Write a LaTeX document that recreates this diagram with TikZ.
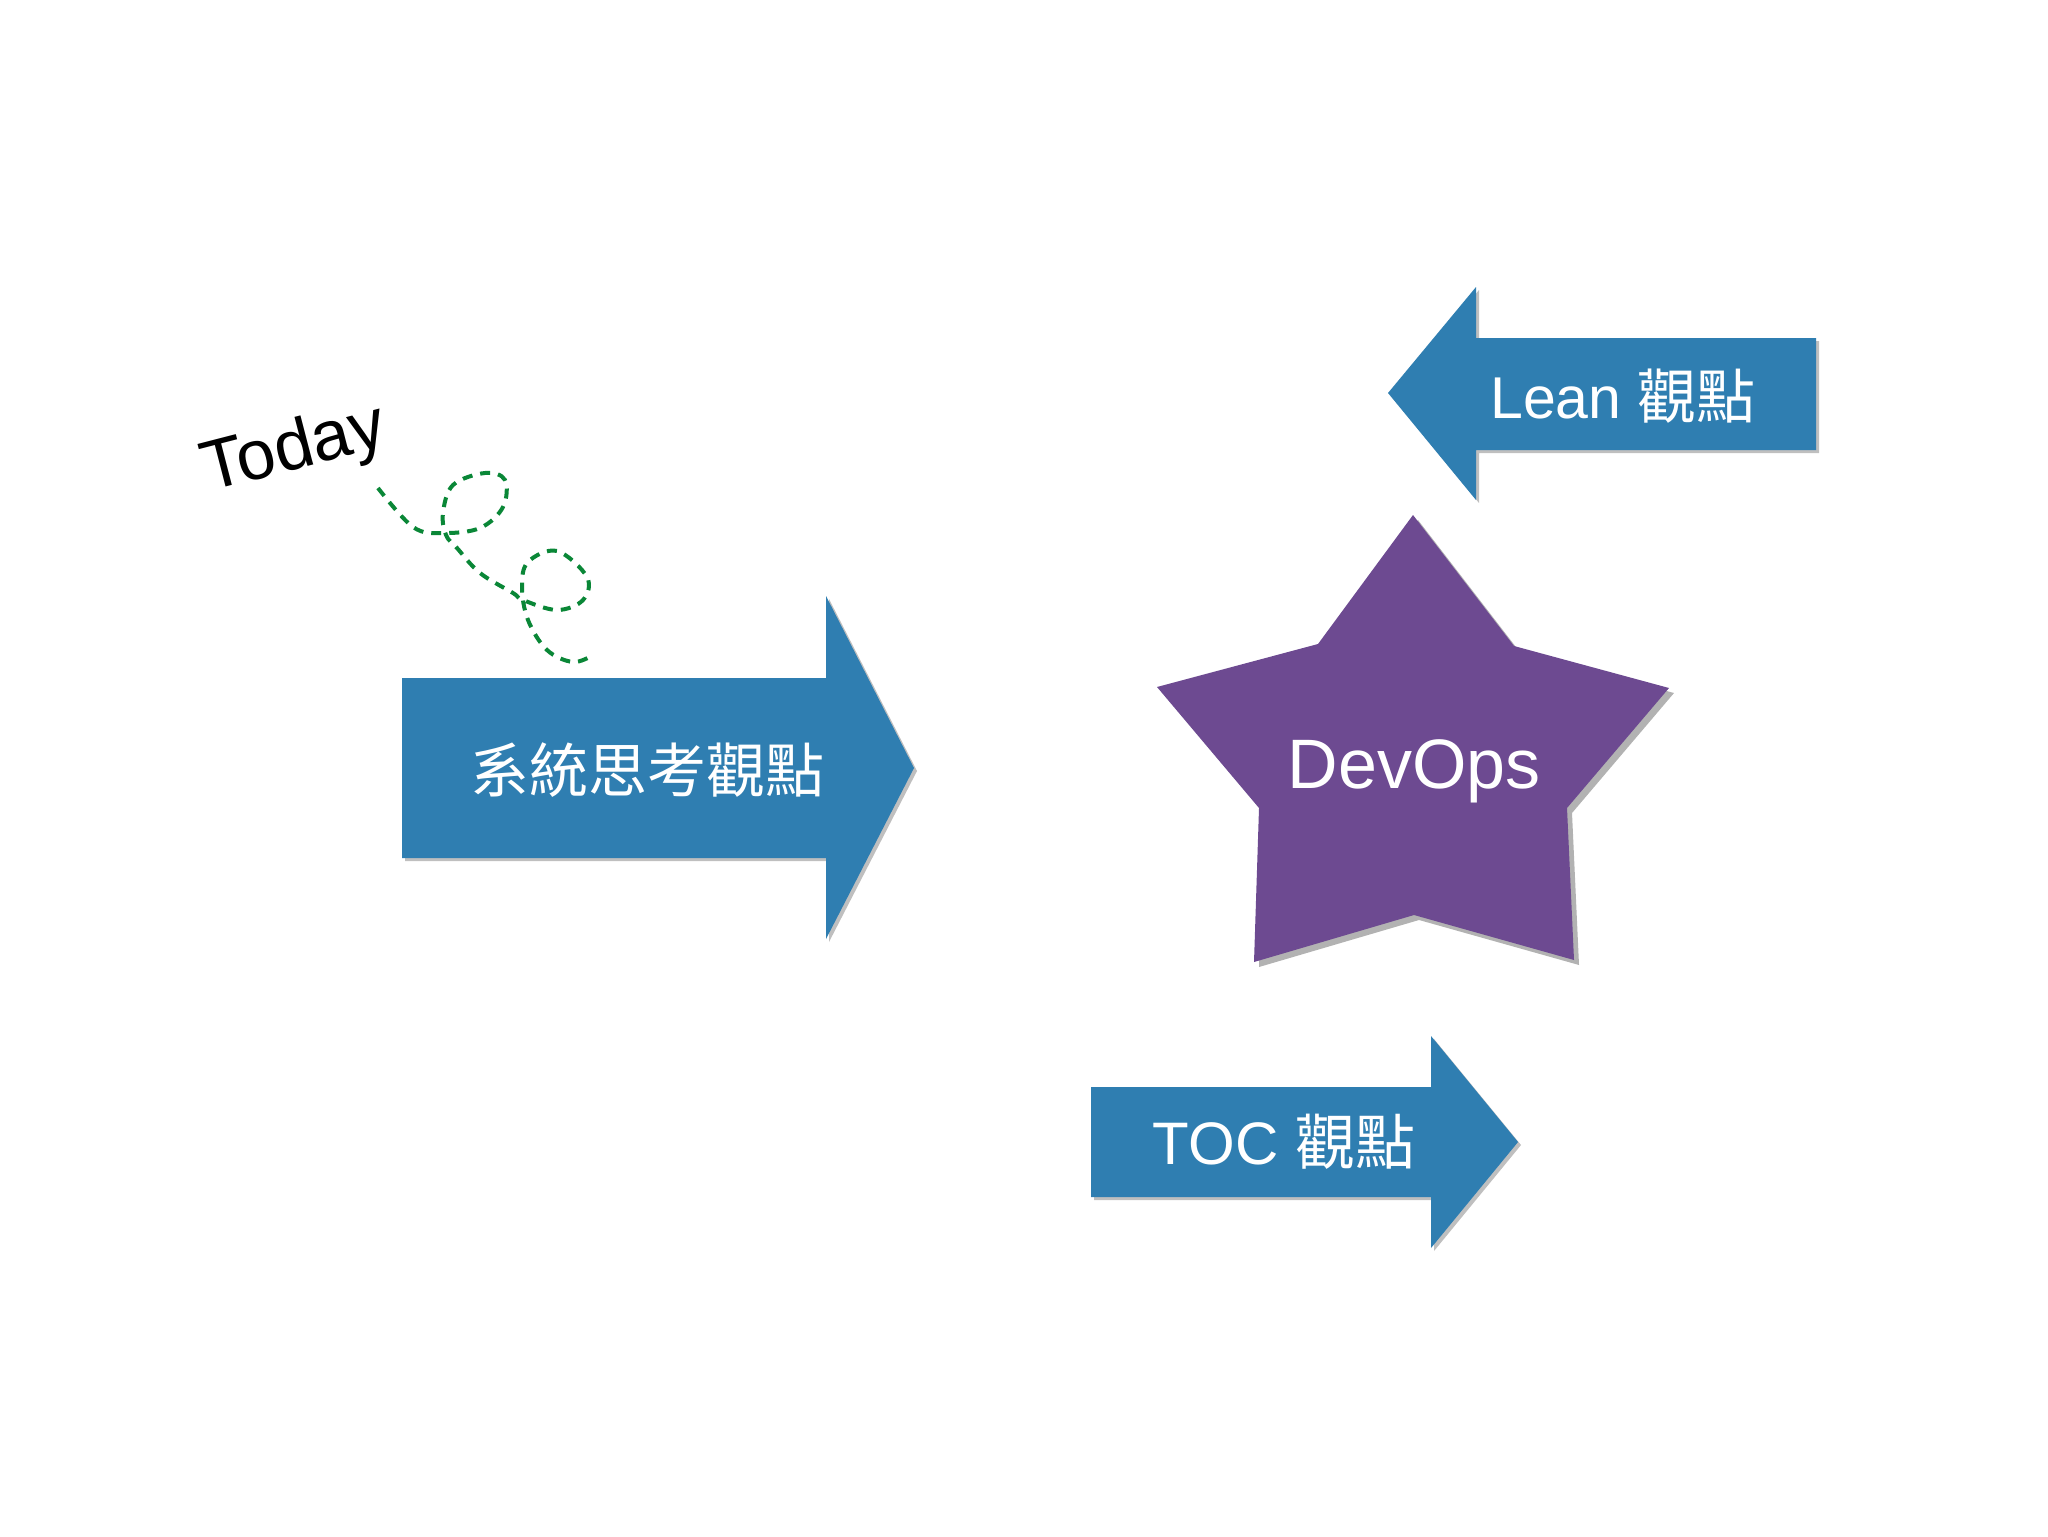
\documentclass[tikz,border=0pt]{standalone}
\usepackage{fontspec}
\setmainfont{Liberation Sans}
\newfontfamily\cjk{Noto Sans CJK TC}
\usetikzlibrary{shadows}
\definecolor{arrowblue}{RGB}{47,126,177}
\definecolor{starpurple}{RGB}{109,74,145}
\definecolor{loopgreen}{RGB}{10,135,55}
\tikzset{
  paper/.style={fill=arrowblue, draw=none,
    drop shadow={shadow xshift=1.5pt, shadow yshift=-1.5pt, opacity=0.25, fill=black}},
  starpaper/.style={fill=starpurple, draw=none,
    drop shadow={shadow xshift=2.5pt, shadow yshift=-2.5pt, opacity=0.3, fill=black}},
  label/.style={text=white, inner sep=0pt, anchor=base},
}
\begin{document}
\begin{tikzpicture}[x=0.5pt, y=-0.5pt]
\useasboundingbox (0,0) rectangle (2048,1536);
\fill[white] (0,0) rectangle (2048,1536);

% main arrow
\path[paper] (402,678) -- (826,678) -- (826,596) -- (914,768) -- (826,939) -- (826,858) -- (402,858) -- cycle;
\node[label] (sys) at (647,792) {\cjk\fontsize{29.5pt}{35pt}\selectfont 系統思考觀點};

% Lean arrow
\path[paper] (1816,338) -- (1476,338) -- (1476,287) -- (1388,393) -- (1476,500) -- (1476,450) -- (1816,450) -- cycle;
\node[label] (lean) at (1623,418) {\fontsize{29.5pt}{35pt}\selectfont Lean {\cjk 觀點}};

% TOC arrow
\path[paper] (1091,1087) -- (1431,1087) -- (1431,1036) -- (1518,1142) -- (1431,1248) -- (1431,1197) -- (1091,1197) -- cycle;
\node[label] (toc) at (1284,1164) {\fontsize{30pt}{36pt}\selectfont TOC {\cjk 觀點}};

% star
\path[starpaper] (1413,515) -- (1514,646) -- (1669,688) -- (1567,808) -- (1574,960) -- (1414,915) -- (1254,962) -- (1259,808) -- (1157,687) -- (1318,644) -- cycle;
\node[label] (devops) at (1414,788) {\fontsize{35pt}{42pt}\selectfont DevOps};

% Today
\node[inner sep=0pt, anchor=base west, rotate=14.5] (today) at (208,492) {\fontsize{35pt}{42pt}\selectfont Today};

% dashed loops
\draw[loopgreen, line width=2pt, dash pattern=on 5pt off 4pt] plot[smooth, tension=0.6] coordinates {
 (378,488) (413,527) (443,533) (480,528) (503,507) (505,480) (485,473) (453,485) (443,513)
 (446,535) (457,548) (480,573) (513,593) (523,600) (557,610) (583,600) (587,577) (557,551)
 (528,562) (522,587) (528,620) (547,650) (573,662) (593,655)};
\end{tikzpicture}
\end{document}
